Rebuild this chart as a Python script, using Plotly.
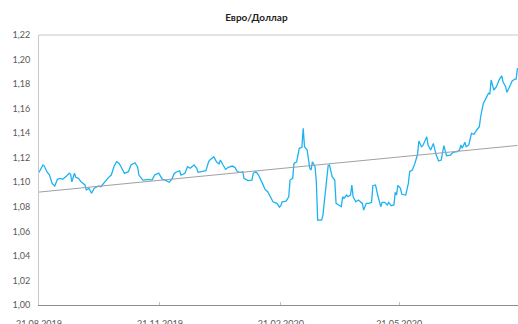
import plotly.graph_objects as go

title = "Евро/Доллар"

dates = [
    "2019-08-21", "2019-08-24", "2019-08-25", "2019-08-27", "2019-08-29", "2019-08-31",
    "2019-09-02", "2019-09-04", "2019-09-06", "2019-09-08", "2019-09-11", "2019-09-13",
    "2019-09-14", "2019-09-15", "2019-09-17", "2019-09-18", "2019-09-20", "2019-09-22",
    "2019-09-25", "2019-09-26", "2019-09-28", "2019-09-30",
    "2019-10-02", "2019-10-05", "2019-10-07", "2019-10-10", "2019-10-13", "2019-10-15",
    "2019-10-17", "2019-10-19", "2019-10-21", "2019-10-23", "2019-10-25", "2019-10-28",
    "2019-10-30",
    "2019-11-02", "2019-11-04", "2019-11-05", "2019-11-08", "2019-11-09", "2019-11-12",
    "2019-11-15", "2019-11-17", "2019-11-20", "2019-11-21", "2019-11-23", "2019-11-25",
    "2019-11-28", "2019-11-30",
    "2019-12-02", "2019-12-04", "2019-12-06", "2019-12-07", "2019-12-10", "2019-12-12",
    "2019-12-14", "2019-12-17", "2019-12-19", "2019-12-20", "2019-12-23", "2019-12-26",
    "2019-12-28", "2019-12-29",
    "2020-01-01", "2020-01-03", "2020-01-05", "2020-01-06", "2020-01-08", "2020-01-10",
    "2020-01-12", "2020-01-15", "2020-01-17", "2020-01-19", "2020-01-21", "2020-01-23",
    "2020-01-24", "2020-01-27", "2020-01-30", "2020-01-31",
    "2020-02-02", "2020-02-04", "2020-02-07", "2020-02-09", "2020-02-11", "2020-02-13",
    "2020-02-15", "2020-02-18", "2020-02-20", "2020-02-21", "2020-02-22", "2020-02-25",
    "2020-02-27", "2020-02-28",
    "2020-03-01", "2020-03-02", "2020-03-04", "2020-03-06", "2020-03-08", "2020-03-09",
    "2020-03-10", "2020-03-12", "2020-03-14", "2020-03-15", "2020-03-16", "2020-03-18",
    "2020-03-19", "2020-03-20", "2020-03-23", "2020-03-24", "2020-03-26", "2020-03-28",
    "2020-03-29", "2020-03-31",
    "2020-04-02", "2020-04-03", "2020-04-05", "2020-04-07", "2020-04-08", "2020-04-09",
    "2020-04-11", "2020-04-12", "2020-04-14", "2020-04-15", "2020-04-16", "2020-04-18",
    "2020-04-20", "2020-04-21", "2020-04-23", "2020-04-24", "2020-04-26", "2020-04-28",
    "2020-04-30",
    "2020-05-01", "2020-05-03", "2020-05-05", "2020-05-07", "2020-05-08", "2020-05-10",
    "2020-05-12", "2020-05-13", "2020-05-15", "2020-05-17", "2020-05-18", "2020-05-19",
    "2020-05-20", "2020-05-22", "2020-05-23", "2020-05-26", "2020-05-28", "2020-05-29",
    "2020-05-31",
    "2020-06-02", "2020-06-04", "2020-06-05", "2020-06-07", "2020-06-08", "2020-06-11",
    "2020-06-12", "2020-06-14", "2020-06-16", "2020-06-18", "2020-06-20", "2020-06-22",
    "2020-06-24", "2020-06-26", "2020-06-29",
    "2020-07-01", "2020-07-04", "2020-07-06", "2020-07-07", "2020-07-08", "2020-07-10",
    "2020-07-11", "2020-07-13", "2020-07-15", "2020-07-17", "2020-07-19", "2020-07-21",
    "2020-07-22", "2020-07-24", "2020-07-26", "2020-07-28", "2020-07-29", "2020-07-30",
    "2020-08-01", "2020-08-03", "2020-08-05", "2020-08-07", "2020-08-08", "2020-08-10",
    "2020-08-11", "2020-08-13", "2020-08-15", "2020-08-17", "2020-08-18", "2020-08-19",
]

eurusd = [
    1.1081, 1.1141, 1.1132, 1.1086, 1.1059, 1.0991,
    1.0969, 1.1024, 1.1032, 1.1024, 1.1051, 1.1073,
    1.1067, 1.1004, 1.1073, 1.1040, 1.1032, 1.1004,
    1.0978, 1.0937, 1.0951, 1.0910,
    1.0951, 1.0969, 1.0964, 1.1004, 1.1040, 1.1059,
    1.1127, 1.1167, 1.1154, 1.1114, 1.1073, 1.1086,
    1.1141,
    1.1159, 1.1127, 1.1059, 1.1018, 1.1018, 1.1024,
    1.1018, 1.1059, 1.1075, 1.1059, 1.1024, 1.1018,
    1.1000, 1.1024,
    1.1073, 1.1086, 1.1094, 1.1059, 1.1073, 1.1127,
    1.1114, 1.1141, 1.1114, 1.1081, 1.1086, 1.1094,
    1.1167, 1.1181,
    1.1208, 1.1167, 1.1149, 1.1181, 1.1141, 1.1105,
    1.1122, 1.1132, 1.1122, 1.1086, 1.1081, 1.1086,
    1.1032, 1.1013, 1.1018, 1.1073,
    1.1086, 1.1059, 1.0991, 1.0942, 1.0923, 1.0882,
    1.0841, 1.0828, 1.0797, 1.0809, 1.0841, 1.0847,
    1.0882, 1.1018,
    1.1032, 1.1154, 1.1167, 1.1277, 1.1285, 1.1440,
    1.1290, 1.1263, 1.1114, 1.1100, 1.1167, 1.1127,
    1.1004, 1.0692, 1.0692, 1.0733, 1.0923, 1.1135,
    1.1141, 1.1045,
    1.1018, 1.0828, 1.0815, 1.0801, 1.0882, 1.0869,
    1.0896, 1.0882, 1.0896, 1.0978, 1.0882, 1.0841,
    1.0855, 1.0847, 1.0828, 1.0774, 1.0828, 1.0828,
    1.0836,
    1.0972, 1.0978, 1.0882, 1.0801, 1.0836, 1.0836,
    1.0815, 1.0836, 1.0809, 1.0815, 1.0918, 1.0896,
    1.0975, 1.0951, 1.0902, 1.0896, 1.0991, 1.1086,
    1.1100,
    1.1154, 1.1228, 1.1336, 1.1290, 1.1298, 1.1371,
    1.1304, 1.1263, 1.1317, 1.1228, 1.1173, 1.1181,
    1.1298, 1.1216, 1.1222,
    1.1244, 1.1249, 1.1263, 1.1304, 1.1277, 1.1326,
    1.1290, 1.1304, 1.1399, 1.1391, 1.1426, 1.1453,
    1.1534, 1.1643, 1.1684, 1.1725, 1.1717, 1.1833,
    1.1752, 1.1779, 1.1833, 1.1868, 1.1819, 1.1779,
    1.1733, 1.1779, 1.1825, 1.1841, 1.1841, 1.1930,
]

trend_dates = ["2019-08-21", "2020-08-19"]
trend_values = [1.0920, 1.1300]

x_tick_dates = ["2019-08-21", "2019-11-21", "2020-02-21", "2020-05-21"]
x_tick_labels = ["21.08.2019", "21.11.2019", "21.02.2020", "21.05.2020"]
y_ticks = [1.00, 1.02, 1.04, 1.06, 1.08, 1.10, 1.12, 1.14, 1.16, 1.18, 1.20, 1.22]

fig = go.Figure()
fig.add_trace(go.Scatter(
    x=dates, y=eurusd, mode="lines",
    line=dict(color="#1DB2F0", width=1.3),
    showlegend=False, hoverinfo="skip",
))
fig.add_trace(go.Scatter(
    x=trend_dates, y=trend_values, mode="lines",
    line=dict(color="#A0A0A0", width=1),
    showlegend=False, hoverinfo="skip",
))

fig.update_layout(
    width=518, height=324,
    margin=dict(l=39, r=0, t=35, b=19, autoexpand=False),
    paper_bgcolor="white", plot_bgcolor="white",
    separators=", ",
    font=dict(family="Lato, Liberation Sans, sans-serif", color="#595959", size=9),
    title=dict(
        text="<b>" + title + "</b>",
        x=0.495, xanchor="center", y=0.947, yanchor="middle",
        font=dict(family="Lato, Liberation Sans, sans-serif", size=10, color="#222222"),
    ),
    xaxis=dict(
        type="date",
        range=["2019-08-21", "2020-08-19 10:00"],
        tickvals=x_tick_dates, ticktext=x_tick_labels,
        showgrid=False, zeroline=False, automargin=False,
        showline=True, linecolor="#8C8C8C", linewidth=1,
        mirror=False,
        ticks="inside", ticklen=3, tickcolor="#BFBFBF",
        ticklabelstandoff=10,
        tickfont=dict(size=9, color="#595959"),
    ),
    yaxis=dict(
        range=[1.00, 1.22],
        tickvals=y_ticks, tickformat=".2f",
        showgrid=False, zeroline=False, automargin=False,
        showline=True, linecolor="#C8C8C8", linewidth=1,
        ticks="", ticklabelstandoff=6,
        tickfont=dict(size=9, color="#595959"),
    ),
    shapes=[dict(
        type="line", xref="paper", yref="paper", x0=0, x1=1, y0=1, y1=1,
        line=dict(color="#C8C8C8", width=1),
    )],
)

fig.write_html(
    "out.html",
    config={"displayModeBar": False, "staticPlot": True},
    post_script="document.body.style.margin='0px';document.body.style.padding='0px';",
)
